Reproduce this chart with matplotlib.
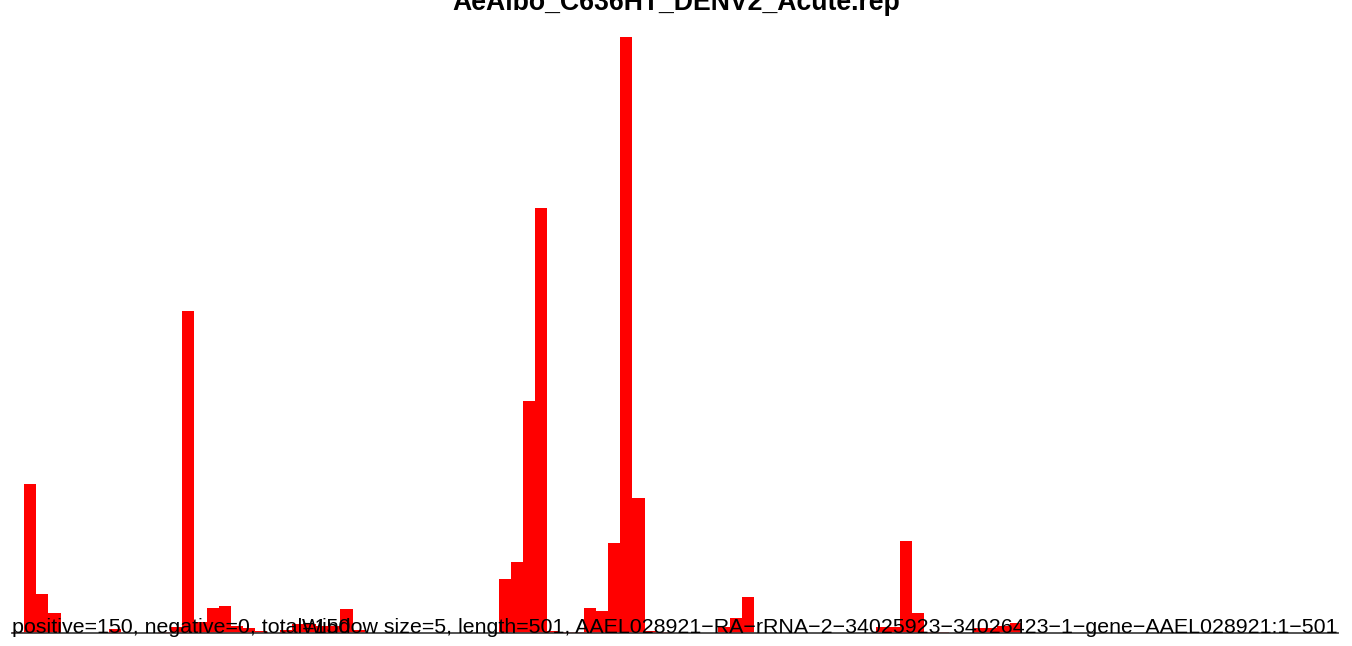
import matplotlib
matplotlib.use("Agg")
import matplotlib.pyplot as plt

title = "AeAlbo_C636HT_DENV2_Acute.rep"
left_note = "positive=150, negative=0, total=150"
right_note = ("Window size=5, length=501, "
              "AAEL028921\u2212RA\u2212rRNA\u22122\u221234025923\u221234026423"
              "\u22121\u2212gene\u2212AAEL028921:1\u2212501")

# window index along the transcript and the read coverage in that window
window = [0, 1, 2, 3, 8, 12, 13, 14, 15, 16, 17, 18, 19, 20, 22, 23, 24, 25,
          26, 27, 28, 40, 41, 42, 43, 44, 45, 46, 47, 48, 49, 50, 51, 52, 53,
          58, 59, 60, 71, 72, 73, 74, 75, 76, 79, 80, 81, 82]
coverage = [1, 149, 39, 20, 4, 1, 6, 322, 11, 25, 27, 7, 5, 2, 3, 9, 9, 7,
            7, 24, 3, 54, 71, 232, 425, 2, 1, 1, 25, 22, 90, 596, 135, 2, 1,
            6, 15, 36, 6, 6, 92, 20, 1, 1, 5, 5, 7, 10]
n_windows = 109

plt.rcParams["font.family"] = ["Liberation Sans", "DejaVu Sans"]

fig = plt.figure(figsize=(13.52, 6.46), dpi=100)
W, H = 1352, 646
ax = fig.add_axes([12 / W, 13 / H, 1326 / W, 596 / H])
ax.bar(window, coverage, width=1.0, align="edge", color="red", linewidth=0)
ax.set_xlim(0, n_windows)
ax.set_ylim(0, max(coverage))
ax.axis("off")

fig.add_artist(plt.Line2D([12 / W, 1338 / W], [13 / H, 13 / H],
                          color="#444444", lw=1.3))

fig.text(0.5, (H - 10) / H, title, ha="center", va="baseline",
         fontsize=19.2, fontweight="bold")
fig.text(12 / W, 13 / H, left_note, ha="left", va="baseline", fontsize=15.4)
fig.text(1338 / W, 13 / H, right_note, ha="right", va="baseline", fontsize=15.4)

fig.savefig("out.png", dpi=100)
